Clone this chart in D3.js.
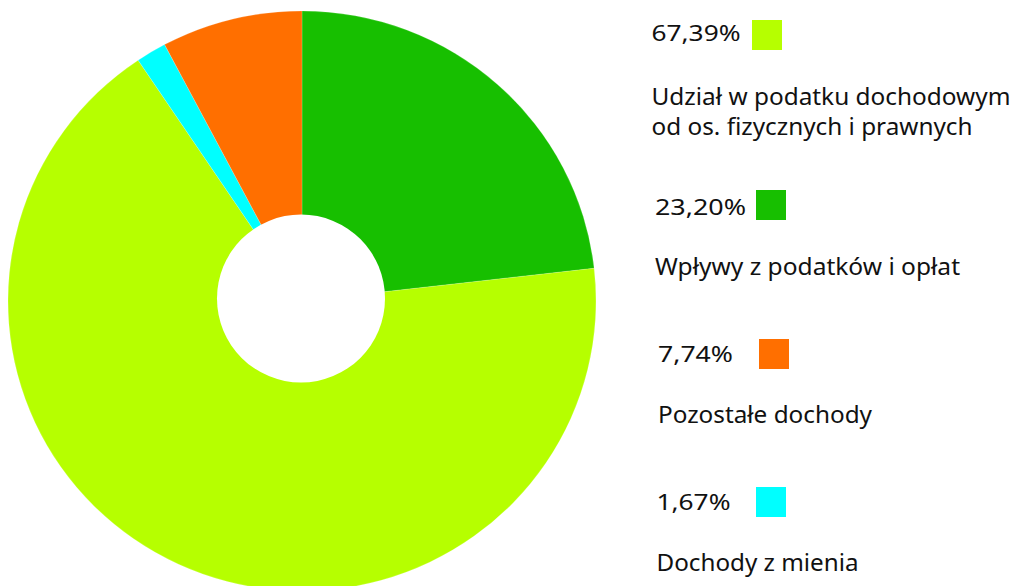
<!DOCTYPE html>
<html><head><meta charset="utf-8">
<script src="https://cdn.jsdelivr.net/npm/d3@7"></script>
<style>
html,body{margin:0;padding:0;background:#fff;}
svg{display:block;}
text{font-family:"Noto Sans","Open Sans",sans-serif;fill:#111;}
</style></head>
<body>
<svg id="chart" width="1013" height="586"></svg>
<script>
// Data
const categories = [
  "Udział w podatku dochodowym|od os. fizycznych i prawnych",
  "Wpływy z podatków i opłat",
  "Pozostałe dochody",
  "Dochody z mienia"
];
const values = [67.39, 23.20, 7.74, 1.67];
const valueLabels = ["67,39%", "23,20%", "7,74%", "1,67%"];
const colors = ["#b6ff00", "#17bf00", "#ff6f00", "#00ffff"];
// drawing order clockwise from 12 o'clock (indices into categories)
const pieOrder = [1, 0, 3, 2];

// Layout (not data)
const cx = 302, cy = 301, rx = 294, ry = 290;
const holeCx = 301, holeCy = 298.5, holeR = 84;
const legendLayout = [
  {x: 651.5, y: 41,  vw: 89, sx: 752, sy: 20,  ly: 105, tw: [359, 321]},
  {x: 655,   y: 215, vw: 91, sx: 756, sy: 190, ly: 275, tw: [305]},
  {x: 658,   y: 362, vw: 75, sx: 759, sy: 339, ly: 423, tw: [214]},
  {x: 656.5, y: 510, vw: 74, sx: 756, sy: 487, ly: 571, tw: [202]}
];

const svg = d3.select("#chart");

const pieData = pieOrder.map(i => ({i, v: values[i]}));
const pie = d3.pie().sort(null).value(d => d.v);
const arcs = pie(pieData);
const arc = d3.arc().innerRadius(0).outerRadius(rx);

const g = svg.append("g").attr("transform", `translate(${cx},${cy}) scale(1,${ry / rx})`);
g.selectAll("path").data(arcs).join("path")
  .attr("d", arc)
  .attr("fill", d => colors[d.data.i])
  .attr("stroke", "#ffffff")
  .attr("stroke-opacity", 0.35)
  .attr("stroke-width", 0.5);

// donut hole
svg.append("circle").attr("cx", holeCx).attr("cy", holeCy).attr("r", holeR).attr("fill", "#fff");

// Legend
const lg = svg.append("g");
categories.forEach((c, i) => {
  const L = legendLayout[i];
  lg.append("text").attr("x", L.x).attr("y", L.y).attr("font-size", 22.5)
    .attr("textLength", L.vw).attr("lengthAdjust", "spacingAndGlyphs")
    .text(valueLabels[i]);
  lg.append("rect").attr("x", L.sx).attr("y", L.sy).attr("width", 30).attr("height", 30).attr("fill", colors[i]);
  c.split("|").forEach((ln, k) => {
    lg.append("text").attr("x", L.x).attr("y", L.ly + k * 30).attr("font-size", 24)
      .attr("textLength", L.tw[k]).attr("lengthAdjust", "spacingAndGlyphs")
      .text(ln);
  });
});
</script>
</body></html>
